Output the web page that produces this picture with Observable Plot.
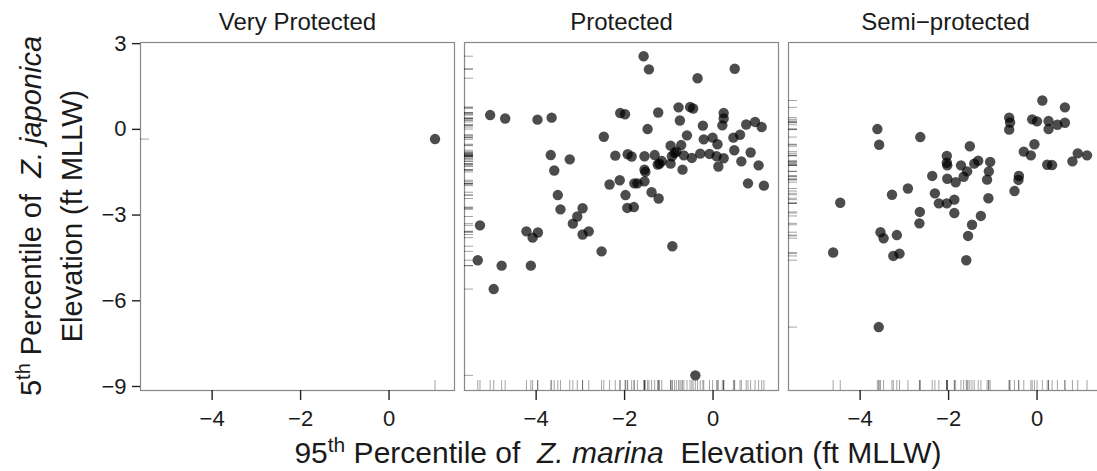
<!DOCTYPE html>
<html><head><meta charset="utf-8">
<script src="https://cdn.jsdelivr.net/npm/d3@7"></script>
<script src="https://cdn.jsdelivr.net/npm/@observablehq/plot@0.6"></script>
<style>
html,body{margin:0;padding:0;background:#fff;overflow:hidden}
#chart{width:1097px;height:471px;overflow:hidden}
</style></head><body><div id="chart"></div>
<script>
const facets = ["Very Protected", "Protected", "Semi−protected"];
const xTicks = [-4, -2, 0];
const yTicks = [3, 0, -3, -6, -9];

// Very Protected
const vpX = [1.04];
const vpY = [-0.34];

// Protected
const pX = [-1.57,-1.45,0.49,-0.35,-5.04,-4.70,-3.97,-3.65,-2.10,-1.99,-1.24,-0.78,-0.52,-0.45,0.24,0.24,0.21,-0.75,-0.23,0.75,0.95,1.10,-1.48,-2.47,-0.59,-0.21,-0.01,0.46,0.61,-0.96,-0.72,0.10,-0.83,-0.87,-0.66,-0.93,-0.29,-0.08,-0.48,0.08,0.24,0.48,0.85,-3.67,-3.24,-2.21,-1.93,-1.84,-1.55,-1.32,-1.16,-1.25,-1.21,-0.96,-0.69,0.12,0.64,1.03,-3.59,-1.55,-1.53,0.79,1.15,-2.34,-2.11,-1.78,-1.71,-1.55,-3.51,-1.98,-1.39,-1.23,-5.27,-5.32,-4.96,-4.78,-4.22,-4.08,-3.96,-4.12,-3.45,-3.17,-3.07,-2.95,-2.95,-2.81,-2.52,-1.94,-1.79,-0.92,-0.40];
const pY = [2.56,2.10,2.12,1.79,0.50,0.38,0.34,0.41,0.57,0.53,0.59,0.77,0.78,0.73,0.57,0.38,0.14,0.31,0.13,0.17,0.26,0.08,0.01,-0.26,-0.21,-0.35,-0.29,-0.29,-0.19,-0.57,-0.55,-0.52,-0.78,-0.83,-0.91,-0.94,-0.85,-0.86,-1.00,-0.94,-1.01,-0.73,-0.81,-0.90,-1.05,-0.92,-0.87,-0.95,-0.94,-0.90,-1.11,-1.23,-1.20,-1.20,-1.41,-1.30,-1.12,-1.26,-1.44,-1.41,-1.49,-1.89,-1.97,-1.93,-1.78,-1.89,-1.89,-1.82,-2.30,-2.30,-2.20,-2.42,-3.36,-4.58,-5.59,-4.77,-3.57,-3.79,-3.61,-4.77,-2.80,-3.30,-3.05,-2.76,-3.68,-3.57,-4.27,-2.75,-2.72,-4.09,-8.61];

// Semi-protected
const spX = [0.12,0.63,-0.63,-0.61,-0.63,-0.11,0.00,0.26,0.26,0.46,0.63,-3.61,-3.57,-2.64,-1.52,-0.30,-0.14,-0.06,0.23,0.34,0.92,1.13,0.80,-2.04,-2.04,-2.03,-1.72,-1.58,-1.66,-1.42,-1.33,-1.06,-1.09,-1.13,-2.37,-2.03,-1.84,-0.41,-0.42,-2.92,-3.28,-2.31,-0.51,-4.45,-2.22,-2.04,-1.87,-1.10,-1.87,-1.27,-1.47,-1.56,-1.60,-2.65,-2.66,-3.54,-3.47,-3.17,-3.25,-3.11,-4.61,-3.58];
const spY = [1.01,0.77,0.41,0.24,-0.01,0.35,0.28,0.29,0.01,0.16,0.23,0.01,-0.54,-0.27,-0.59,-0.78,-0.91,-0.52,-1.24,-1.25,-0.84,-0.91,-1.12,-0.93,-1.17,-1.26,-1.26,-1.47,-1.66,-1.20,-1.10,-1.14,-1.47,-1.76,-1.63,-1.73,-1.85,-1.63,-1.77,-2.07,-2.29,-2.24,-2.16,-2.57,-2.59,-2.59,-2.46,-2.41,-2.93,-3.03,-3.34,-3.73,-4.58,-2.89,-3.29,-3.60,-3.81,-3.70,-4.43,-4.35,-4.31,-6.92];

const rows = [];
[[vpX, vpY], [pX, pY], [spX, spY]].forEach(([xs, ys], i) =>
  xs.forEach((x, j) => rows.push({site: facets[i], x, y: ys[j]})));

const FONT = "'Liberation Sans', Arial, Helvetica, sans-serif";

const chart = Plot.plot({
  width: 1097, height: 471,
  marginLeft: 139.5, marginRight: -4.5, marginTop: 42, marginBottom: 81,
  style: {fontFamily: FONT, fontSize: "22px", color: "#1a1a1a", background: "#fff"},
  fx: {domain: facets, paddingInner: 0.0309, paddingOuter: 0, axis: null, label: null},
  x: {domain: [-5.62, 1.48]},
  y: {domain: [-9.14, 3.04]},
  marks: [
    Plot.frame({stroke: "#888", strokeWidth: 1.2}),
    Plot.axisX({ticks: xTicks, tickSize: 10, tickPadding: 10, fontSize: 22, strokeWidth: 1.4, stroke: "#222", fill: "#1a1a1a", label: null}),
    Plot.axisY({ticks: yTicks, tickSize: 8, tickPadding: 6, fontSize: 22, strokeWidth: 1.4, stroke: "#222", fill: "#1a1a1a", label: null}),
    Plot.ruleX(rows, {x: "x", fx: "site", insetTop: 338, stroke: "#000", strokeOpacity: 0.45, strokeWidth: 0.8}),
    Plot.ruleY(rows, {y: "y", fx: "site", insetRight: 305, stroke: "#000", strokeOpacity: 0.45, strokeWidth: 0.8}),
    Plot.dot(rows, {x: "x", y: "y", fx: "site", r: 5.2, fill: "#000", fillOpacity: 0.7, stroke: "none"}),
    Plot.text(facets, {fx: d => d, text: d => d, frameAnchor: "top", lineAnchor: "bottom", dy: -13, fontSize: 24, fill: "#1a1a1a"})
  ]
});
document.getElementById("chart").appendChild(chart);

const svg = d3.select(chart);
function title(x, y, rot, size, parts) {
  const t = svg.append("text")
    .attr("transform", `translate(${x},${y})` + (rot ? ` rotate(${rot})` : ""))
    .attr("text-anchor", "middle")
    .attr("font-family", FONT)
    .attr("font-size", size)
    .attr("fill", "#1a1a1a")
    .style("white-space", "pre");
  parts.forEach(p => {
    const s = t.append("tspan").text(p.t);
    if (p.sup) s.attr("font-size", Math.round(size * 0.7)).attr("dy", -11);
    if (p.down) s.attr("dy", 11);
    if (p.it) s.attr("font-style", "italic");
  });
}
title(41, 216, -90, 29, [{t: "5"}, {t: "th", sup: true}, {t: " Percentile of  ", down: true}, {t: "Z. japonica", it: true}]);
title(82, 216, -90, 29, [{t: "Elevation (ft MLLW)"}]);
title(618, 463, 0, 30, [{t: "95"}, {t: "th", sup: true}, {t: " Percentile of  ", down: true}, {t: "Z. marina", it: true}, {t: "  Elevation (ft MLLW)"}]);
</script></body></html>
